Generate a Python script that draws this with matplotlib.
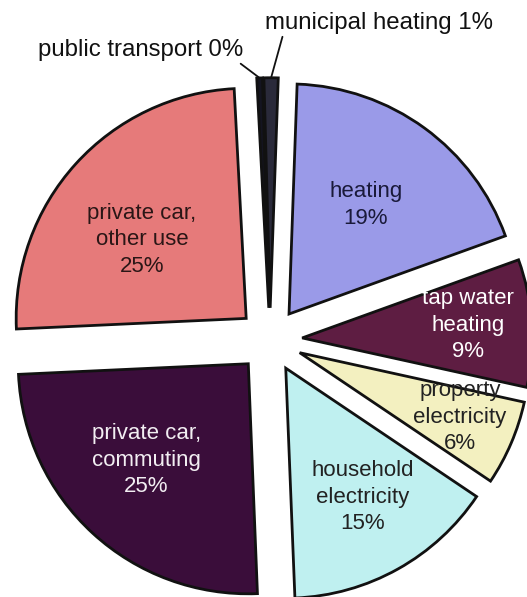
import matplotlib.pyplot as plt
import numpy as np

plt.rcParams['font.family'] = ['Liberation Sans', 'DejaVu Sans']

# Share of emissions by source (clockwise from the top)
sources = ["public transport", "municipal heating", "heating", "tap water\nheating",
           "property\nelectricity", "household\nelectricity", "private car,\ncommuting",
           "private car,\nother use"]
shares = [0.4, 1, 19, 9, 6, 15, 25, 25]
pct_labels = ["0%", "1%", "19%", "9%", "6%", "15%", "25%", "25%"]
colors = ["#141420", "#2a2a3a", "#9a9ae8", "#5e1d42", "#f3f0c0",
          "#bff0f0", "#3a0d3a", "#e67a7a"]
text_colors = [None, None, "#1a1a3a", "#ffffff", "#222222", "#222222", "#f2eef2", "#2a1616"]
# label centres inside each wedge (data units, radius = 1)
label_xy = [None, None, (0.417, 0.587), (0.861, 0.065), (0.826, -0.335),
            (0.404, -0.683), (-0.539, -0.522), (-0.557, 0.435)]

fig = plt.figure(figsize=(5.27, 5.97), dpi=100)
ax = fig.add_axes([0, 0, 1, 1])

explode = [0.14] * len(shares)
wedges, _ = ax.pie(shares, colors=colors, explode=explode, startangle=93,
                   counterclock=False,
                   wedgeprops=dict(edgecolor="#111111", linewidth=2))

for i, w in enumerate(wedges):
    if label_xy[i] is None:
        continue
    x, y = label_xy[i]
    ax.text(x, y, f"{sources[i]}\n{pct_labels[i]}", ha="center", va="center",
            fontsize=16, color=text_colors[i], linespacing=1.35)

# outside labels for the two thin slivers at the top
for i, (tx, ty, ha) in zip([0, 1], [(-0.117, 1.261, "right"), (-0.022, 1.378, "left")]):
    w = wedges[i]
    ang = np.deg2rad((w.theta1 + w.theta2) / 2)
    cx, cy = w.center
    tip = (cx + np.cos(ang) * w.r, cy + np.sin(ang) * w.r)
    ax.annotate(f"{sources[i]} {pct_labels[i]}", xy=tip, xytext=(tx, ty),
                ha=ha, va="center", fontsize=17.3, color="#111111",
                arrowprops=dict(arrowstyle="-", color="#111111", lw=1.3,
                                shrinkA=0, shrinkB=0,
                                relpos=(0.97, 0.0) if ha == "right" else (0.08, 0.0)))

ax.set_xlim(-1.174, 1.117)
ax.set_ylim(-1.117, 1.478)
ax.set_aspect("auto")
ax.axis("off")

fig.savefig("out.png", dpi=100, facecolor="white")
